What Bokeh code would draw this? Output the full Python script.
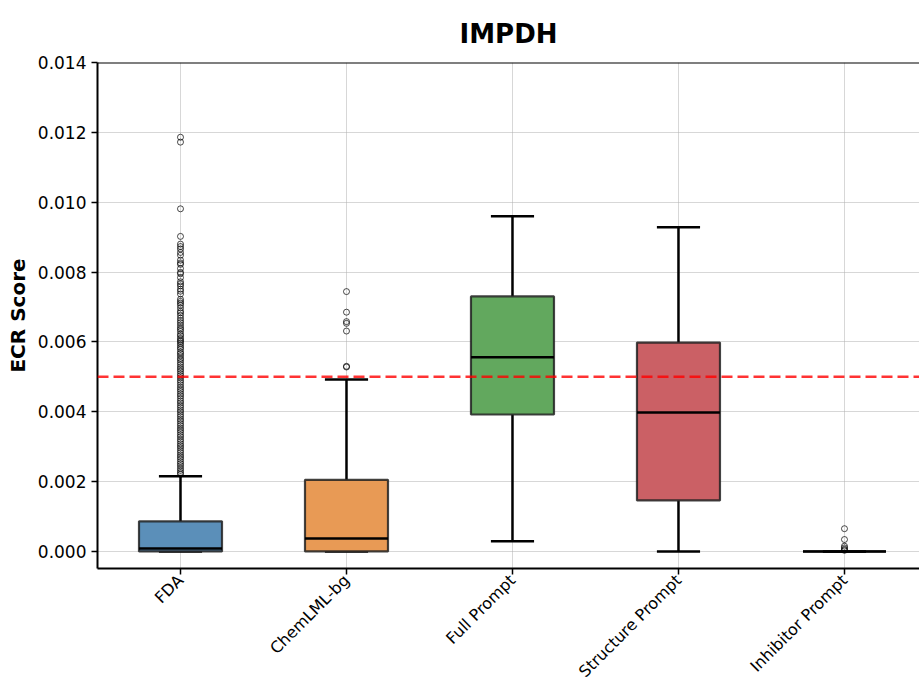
from bokeh.plotting import figure
from bokeh.models import Range1d, FixedTicker, PrintfTickFormatter, Span, ColumnDataSource
from bokeh.embed import file_html
from bokeh.resources import INLINE
import math

categories = ["FDA", "ChemLML-bg", "Full Prompt", "Structure Prompt", "Inhibitor Prompt"]
colors = ["#5b8fb9", "#e89a55", "#62a85e", "#cb6065", "#8c6bb1"]

q1 = [0.00000, 0.00000, 0.00392, 0.00146, 0.00000]
median = [0.00008, 0.00037, 0.00556, 0.00398, 0.00000]
q3 = [0.00086, 0.00205, 0.00730, 0.00598, 0.00000]
whisk_lo = [0.00000, 0.00000, 0.00029, 0.00000, 0.00000]
whisk_hi = [0.00215, 0.00492, 0.00960, 0.00928, 0.00000]

fda_outliers = [0.01186, 0.01172, 0.00981, 0.00902, 0.00880, 0.00873, 0.00866, 0.00856, 0.00848,
                0.00834, 0.00826, 0.00822, 0.00810, 0.00799, 0.00795, 0.00784, 0.00772, 0.00766,
                0.00760, 0.00751, 0.00745, 0.00737, 0.00722, 0.00716, 0.00711, 0.00705, 0.00697,
                0.00688, 0.00683, 0.00676, 0.00668, 0.00661, 0.00655, 0.00648, 0.00641, 0.00636,
                0.00630, 0.00622, 0.00617, 0.00610, 0.00605, 0.00601, 0.00596, 0.00590, 0.00584,
                0.00579, 0.00571, 0.00566, 0.00560, 0.00553, 0.00548, 0.00541, 0.00535, 0.00528,
                0.00522, 0.00516, 0.00509, 0.00503, 0.00497, 0.00490, 0.00484, 0.00477, 0.00470,
                0.00464, 0.00458, 0.00451, 0.00445, 0.00438, 0.00431, 0.00425, 0.00418, 0.00412,
                0.00405, 0.00399, 0.00392, 0.00386, 0.00379, 0.00373, 0.00366, 0.00360, 0.00353,
                0.00347, 0.00341, 0.00334, 0.00328, 0.00321, 0.00315, 0.00308, 0.00302, 0.00296,
                0.00289, 0.00283, 0.00276, 0.00270, 0.00264, 0.00257, 0.00251, 0.00245, 0.00238,
                0.00232, 0.00226, 0.00221]
chemlml_outliers = [0.00744, 0.00685, 0.00658, 0.00653, 0.00631, 0.00530, 0.00528]
full_outliers = []
structure_outliers = []
inhibitor_outliers = [0.00065, 0.00034, 0.00015, 0.00010, 0.00006, 0.00003]
outliers = [fda_outliers, chemlml_outliers, full_outliers, structure_outliers, inhibitor_outliers]

threshold = 0.005
y_ticks = [0.000, 0.002, 0.004, 0.006, 0.008, 0.010, 0.012, 0.014]

FONT = "DejaVu Sans"
xs = list(range(len(categories)))

p = figure(width=919, height=690, output_backend="svg", toolbar_location=None,
           x_range=Range1d(-0.5, 4.452), y_range=Range1d(-0.00049, 0.014),
           min_border_left=97, min_border_right=0, min_border_bottom=122, min_border_top=62)

p.title.text = "IMPDH"
p.title.text_font = FONT
p.title.text_font_size = "26px"
p.title.text_font_style = "bold"
p.title.align = "center"
p.title.offset = 4
p.title.text_color = "black"
p.title.standoff = 23
p.title.vertical_align = "top"
p.title.text_line_height = 0.6

p.outline_line_color = None
p.background_fill_color = "white"

# grid
p.xgrid.grid_line_color = "#b0b0b0"
p.xgrid.grid_line_alpha = 0.5
p.ygrid.grid_line_color = "#b0b0b0"
p.ygrid.grid_line_alpha = 0.5
p.xgrid.grid_line_width = 1
p.ygrid.grid_line_width = 1

# axes
p.xaxis.ticker = FixedTicker(ticks=xs)
p.xaxis.major_label_overrides = {i: c for i, c in enumerate(categories)}
p.xaxis.major_label_orientation = math.pi / 4
p.yaxis.ticker = FixedTicker(ticks=y_ticks)
p.yaxis.formatter = PrintfTickFormatter(format="%.3f")
p.yaxis.axis_label = "ECR Score"
p.yaxis.axis_label_text_font = FONT
p.yaxis.axis_label_text_font_size = "20px"
p.yaxis.axis_label_text_font_style = "bold"
p.yaxis.axis_label_text_color = "black"
for ax in (p.xaxis[0], p.yaxis[0]):
    ax.axis_line_width = 2
    ax.axis_line_color = "black"
    ax.major_tick_line_width = 1.5
    ax.major_tick_out = 6
    ax.major_tick_in = 0
    ax.minor_tick_line_color = None
    ax.major_label_text_font = FONT
    ax.major_label_text_font_size = "17px"
    ax.major_label_text_color = "black"
    ax.major_label_standoff = 5
p.xaxis[0].major_label_text_font_size = "16px"
p.xaxis[0].major_label_standoff = 3

# top spine
p.add_layout(Span(location=0.014, dimension="width", line_color="black", line_width=2))

# whiskers
p.segment(x0=xs, y0=q3, x1=xs, y1=whisk_hi, line_color="black", line_width=2.5)
p.segment(x0=xs, y0=whisk_lo, x1=xs, y1=q1, line_color="black", line_width=2.5)
# caps
p.segment(x0=[x - 0.13 for x in xs], y0=whisk_hi, x1=[x + 0.13 for x in xs], y1=whisk_hi,
          line_color="black", line_width=2.5)
p.segment(x0=[x - 0.13 for x in xs], y0=whisk_lo, x1=[x + 0.13 for x in xs], y1=whisk_lo,
          line_color="black", line_width=2.5)

# boxes
src = ColumnDataSource(dict(x=xs, bottom=q1, top=q3, color=colors))
p.vbar(x="x", bottom="bottom", top="top", width=0.5, source=src, fill_color="color",
       fill_alpha=1.0, line_color="#222222", line_alpha=0.85, line_width=2.2)

# medians
p.segment(x0=[x - 0.25 for x in xs], y0=median, x1=[x + 0.25 for x in xs], y1=median,
          line_color="black", line_width=2.5)

# outliers
ox, oy = [], []
for i, vals in enumerate(outliers):
    for v in vals:
        ox.append(i)
        oy.append(v)
p.scatter(ox, oy, marker="circle", size=6, fill_color=None, line_color="black",
          line_alpha=0.7, line_width=1)

# threshold
p.add_layout(Span(location=threshold, dimension="width", line_color="red", line_alpha=0.8,
                  line_width=2.5, line_dash="11 5"))

open("out.html", "w").write(file_html(p, INLINE))
